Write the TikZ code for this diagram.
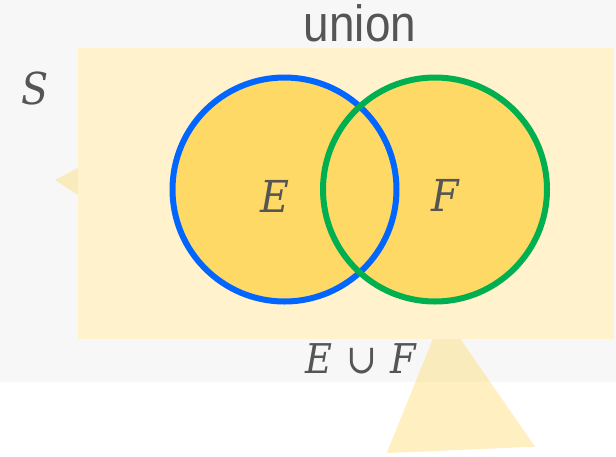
\documentclass[tikz,border=0pt]{standalone}
\usepackage{fontspec}
\setmainfont{Liberation Sans}
\newfontfamily\letterfont{DejaVu Serif Condensed}
\usepackage{graphicx}
\definecolor{canvas}{HTML}{F7F7F7}
\definecolor{paper}{HTML}{FFF2CC}
\definecolor{gold}{HTML}{FFD966}
\definecolor{setblue}{HTML}{0066FF}
\definecolor{setgreen}{HTML}{00B050}
\definecolor{ink}{HTML}{555555}
\tikzset{
  settitle/.style={text=ink, inner sep=0pt, anchor=base,
    font=\fontsize{51}{51}\selectfont},
  setlabel/.style={text=ink, inner sep=0pt, anchor=base,
    font=\letterfont\itshape\fontsize{44}{44}\selectfont},
  tail/.style={fill=gold, fill opacity=0.4},
  ring/.style={line width=6pt},
}
\begin{document}
\begin{tikzpicture}[x=1pt, y=-1pt]
  \useasboundingbox (0,0) rectangle (616,456);
  \fill[white] (0,0) rectangle (616,456);
  % backdrop
  \fill[canvas] (0,0) rectangle (616,382);
  % pointer tails behind the sample space
  \fill[tail] (55,180) -- (95,159) -- (95,206) -- cycle;
  \fill[tail] (443,314) -- (386.7,453) -- (535,446.7) -- cycle;
  % sample space
  \fill[paper] (78,48) rectangle (614,339);
  % the two events
  \coordinate (cE) at (284.5,189.5);
  \coordinate (cF) at (435,189.5);
  \fill[gold] (cE) circle[radius=112];
  \fill[gold] (cF) circle[radius=112];
  \draw[ring, setblue] (cE) circle[radius=112];
  \draw[ring, setgreen] (cF) circle[radius=112];
  % labels
  \node[settitle] (title) at (360,41.7) {\scalebox{0.9}[1]{union}};
  \node[setlabel] (lS) at (35,104.3) {S};
  \node[setlabel] (lE) at (274.5,212.3) {E};
  \node[setlabel] (lF) at (445,211.7) {F};
  \node[setlabel, font=\letterfont\itshape\fontsize{41}{41}\selectfont] (lU) at (361,373)
    {E\hspace{0.33em}{\upshape ∪}\hspace{0.33em}F};
\end{tikzpicture}
\end{document}
